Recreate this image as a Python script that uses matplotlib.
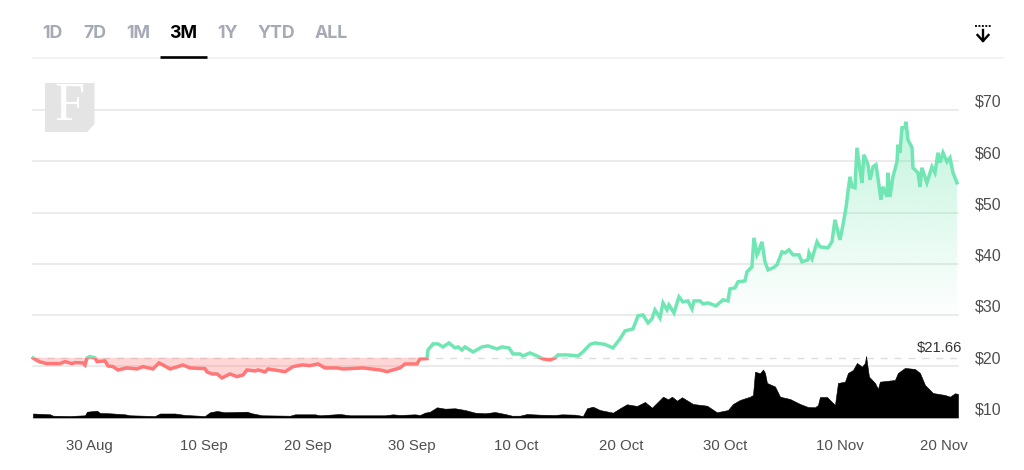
import numpy as np
import matplotlib
matplotlib.use("Agg")
import matplotlib.pyplot as plt
from matplotlib.patches import Polygon, Rectangle
from matplotlib.lines import Line2D
from matplotlib.transforms import ScaledTranslation
from matplotlib.colors import to_rgb

plt.rcParams['font.family'] = ['Liberation Sans', 'DejaVu Sans']

# days relative to 30 Aug
price_days = [-5.37,-5.08,-4.70,-4.03,-2.78,-2.30,-1.63,-1.34,-0.58,-0.38,-0.19,0.10,0.58,0.77,1.53,1.82,2.30,2.78,3.64,4.60,
 5.18,6.14,6.71,7.10,7.77,8.44,9.01,9.69,11.12,11.32,11.80,12.28,12.75,13.52,14.19,14.77,15.15,15.92,16.21,16.88,
 17.17,18.80,19.56,20.43,21.19,21.96,22.63,23.78,24.36,26.28,27.91,28.58,29.15,29.82,30.30,31.46,31.74,32.41,32.51,32.99,
 33.47,33.95,34.52,35.10,35.39,35.77,36.06,36.83,37.69,38.26,39.13,39.61,40.28,40.66,41.33,41.62,42.29,42.96,43.54,44.21,
 44.69,44.98,45.84,46.90,47.37,48.05,48.53,49.48,50.25,50.92,51.40,52.17,52.65,53.13,53.61,53.99,54.28,54.76,55.05,55.43,
 55.62,56.10,56.58,56.96,57.44,57.83,58.02,58.59,58.88,59.36,60.13,60.80,61.28,61.47,61.95,62.24,62.91,63.10,63.58,63.77,
 64.06,64.16,64.54,64.83,65.12,65.60,65.98,66.46,66.75,67.13,67.51,68.09,68.38,68.95,69.05,69.34,69.82,70.10,70.87,71.25,
 71.54,72.02,72.31,72.60,72.79,72.98,73.17,73.46,73.65,73.94,74.13,74.32,74.71,74.90,75.19,75.47,75.66,75.95,76.14,76.53,
 76.62,76.82,77.10,77.49,77.58,77.77,77.97,78.25,78.35,78.54,78.93,79.02,79.50,79.69,79.88,80.36,80.84,81.13,81.42,81.61,
 81.90,82.28,82.57,82.86,83.24]
prices = [21.62,21.23,20.84,20.51,20.51,20.90,20.51,20.71,20.65,20.25,21.62,21.88,21.62,20.90,21.04,20.06,19.92,19.28,19.67,19.47,
 19.92,19.47,20.65,20.25,19.47,19.87,20.25,19.67,19.53,18.89,18.50,18.50,17.72,18.50,17.97,18.30,19.28,19.08,19.28,18.89,
 19.47,18.94,19.92,20.25,20.12,20.45,19.67,19.67,19.47,19.67,19.28,18.94,19.28,19.67,20.45,20.45,21.43,21.49,23.18,24.36,
 24.36,23.77,24.55,23.58,23.77,23.18,23.77,22.79,23.77,23.97,23.38,23.77,23.58,22.40,22.40,22.01,22.60,22.01,21.43,21.23,
 21.62,22.21,22.21,22.01,22.79,24.26,24.55,24.26,23.58,25.33,26.89,27.29,29.83,30.02,28.46,29.24,31.00,29.43,32.36,31.00,
 31.97,30.41,33.54,32.56,32.75,31.19,32.75,32.75,32.17,32.36,31.78,32.95,32.75,35.10,35.29,36.47,36.66,38.42,39.39,45.06,
 41.74,42.13,44.28,40.37,38.81,39.20,39.78,42.32,42.13,42.72,41.74,41.74,40.37,40.76,42.13,40.96,44.28,43.30,43.11,44.28,
 48.57,44.67,47.60,50.92,54.04,56.97,55.02,54.82,62.63,58.34,55.80,61.27,59.32,56.38,58.92,59.32,56.78,52.48,55.02,53.07,
 57.75,53.07,56.97,59.90,63.22,61.66,66.54,66.54,67.71,64.20,62.63,58.73,57.75,55.02,58.73,55.80,58.92,57.75,61.66,59.71,
 61.66,59.90,60.68,57.75,55.80]

volume_days = [-5.37,-3.74,-3.45,-1.82,-0.38,-0.19,0.77,1.05,2.01,3.45,3.93,6.33,6.81,8.25,9.21,11.12,11.60,12.28,13.04,15.15,
 15.63,16.59,19.28,19.76,21.67,22.15,24.07,25.03,28.39,29.15,29.82,31.26,31.74,32.22,32.70,33.37,34.14,35.10,36.06,37.02,
 37.98,38.94,39.89,40.57,41.33,42.00,43.25,44.69,45.36,46.61,47.37,47.76,48.33,49.00,50.25,50.92,51.59,52.55,53.32,53.99,
 55.05,55.53,55.91,56.39,56.87,57.92,59.27,60.03,60.23,61.28,61.76,62.43,63.39,63.68,63.87,64.35,64.64,64.83,65.02,65.79,
 66.27,67.23,68.19,68.95,69.62,69.91,70.10,70.77,71.25,71.54,71.83,72.50,72.79,73.27,73.65,74.13,74.42,74.52,74.80,75.38,
 75.66,75.85,77.29,77.58,78.25,79.21,79.69,80.17,80.94,82.09,82.57,83.05,83.34]
volumes = [0.78,0.62,0.35,0.29,0.43,1.13,1.33,0.88,0.82,0.62,0.43,0.29,0.78,0.78,0.49,0.29,1.02,1.27,1.02,1.13,
 0.82,0.43,0.35,0.62,0.62,0.43,0.68,0.43,0.43,0.62,0.49,0.62,0.49,0.94,1.13,1.99,1.72,1.80,1.46,0.94,
 0.82,1.07,0.68,0.35,0.35,0.68,0.55,0.49,0.62,0.55,0.29,1.80,2.11,1.46,0.94,1.80,2.58,2.25,3.03,1.91,
 4.06,3.55,4.06,3.28,3.95,2.64,2.30,1.27,1.02,1.46,2.64,3.42,4.06,4.39,8.94,8.63,9.37,8.69,6.74,6.05,
 4.06,3.61,2.64,2.05,1.99,2.44,4.00,4.00,3.03,2.44,6.74,6.99,8.69,9.28,10.64,9.92,10.64,12.01,7.97,6.74,
 5.57,6.99,7.32,8.69,9.67,9.47,8.69,6.35,4.78,4.39,4.06,4.73,4.59]

base_price = 21.66
tick_days = [0, 11, 21, 31, 41, 51, 61, 72, 82]
tick_labels = ['30 Aug', '10 Sep', '20 Sep', '30 Sep', '10 Oct', '20 Oct', '30 Oct', '10 Nov', '20 Nov']
y_ticks = [10, 20, 30, 40, 50, 60, 70]
y_labels = ['$10', '$20', '$30', '$40', '$50', '$60', '$70']
tabs = ['1D', '7D', '1M', '3M', '1Y', 'YTD', 'ALL']
active_tab = '3M'

W, H = 1024, 470
GREEN, RED = '#6fe6b3', '#ff7777'
fig = plt.figure(figsize=(W/100, H/100), dpi=100, facecolor='white')
fx = lambda px: px / W
fy = lambda py: 1 - py / H

ax = fig.add_axes([fx(33), fy(417.5), (958-33)/W, (417.5-110)/H])
ax.set_xlim(-5.37, 83.34)
ax.set_ylim(10, 70)
ax.set_facecolor('none')
for s in ax.spines.values():
    s.set_visible(False)
ax.yaxis.tick_right()
ax.set_yticks(y_ticks, y_labels)
ax.set_xticks(tick_days, tick_labels)
ax.grid(axis='y', color='#e6e6e6', lw=1.1, zorder=0)
ax.grid(axis='x', visible=False)
ax.tick_params(axis='y', length=0, pad=12.2, labelsize=11.5, labelcolor='#4f4f4f')
ax.tick_params(axis='x', length=0, pad=15.7, labelsize=10.8, labelcolor='#4f4f4f')
for lab in ax.get_yticklabels():
    lab.set_transform(lab.get_transform() + ScaledTranslation(0, 9.2/100, fig.dpi_scale_trans))
for g in ax.get_ygridlines():
    g.set_clip_on(False)

x = np.array(price_days)
y = np.array(prices)

# base line
ax.axhline(base_price, color='#dddddd', lw=1, dashes=(5, 5), zorder=1)

# red area
ax.fill_between(x, y, base_price, where=y <= base_price, interpolate=True,
                color='#ff8080', alpha=0.32, lw=0, zorder=2)

# green gradient area
n = 256
rgba = np.zeros((n, 1, 4))
rgba[..., :3] = to_rgb('#5fe3a8')
rgba[:, 0, 3] = np.linspace(0.42, 0, n)**1.1
top = max(prices)
fade_end = 28
im = ax.imshow(rgba, extent=(x[0], x[-1], fade_end, top), origin='upper', aspect='auto', zorder=2,
               interpolation='bilinear')
clip_above = np.clip(y, base_price, None)
poly = Polygon(np.r_[np.c_[x, clip_above], [[x[-1], base_price], [x[0], base_price]]],
               closed=True, transform=ax.transData, fc='none', ec='none')
ax.add_patch(poly)
im.set_clip_path(poly)
ax.set_xlim(-5.37, 83.34)
ax.set_ylim(10, 70)

# price line, green above and red below the base price
lg, = ax.plot(x, y, color=GREEN, lw=2.5, zorder=4, solid_joinstyle='miter')
lr, = ax.plot(x, y, color=RED, lw=2.5, zorder=4, solid_joinstyle='miter')
lg.set_clip_path(Rectangle((-10, base_price), 100, 80, transform=ax.transData))
lr.set_clip_path(Rectangle((-10, 0), 100, base_price, transform=ax.transData))

# volume
ax2 = fig.add_axes(ax.get_position(), sharex=ax, facecolor='none')
ax2.set_ylim(0, 60)
ax2.axis('off')
ax2.fill_between(volume_days, volumes, 0, color='black', lw=0.4, zorder=3)

ax.text(fx(962), fy(348), f'${base_price:.2f}', transform=fig.transFigure, ha='right', va='center',
        fontsize=10.6, color='#333333')

# tab bar
tab_x = [52.5, 94.5, 138, 183.5, 227, 276, 331]
for name, px in zip(tabs, tab_x):
    fig.text(fx(px), fy(34), name, ha='center', va='center', fontsize=12.8, fontweight='bold',
             family='Inter', color='black' if name == active_tab else '#a7aab6')
fig.add_artist(Line2D([fx(33), fx(1003)], [fy(58), fy(58)], color='#f0f0f0', lw=1.1))
fig.add_artist(Line2D([fx(160), fx(207)], [fy(57), fy(57)], color='black', lw=1.9, solid_capstyle='butt'))

# logo
logo = [(45, 83), (94.5, 83), (94.5, 124), (87, 132), (45, 132)]
fig.add_artist(Polygon([(fx(a), fy(b)) for a, b in logo], closed=True, transform=fig.transFigure,
                       fc='#e3e3e3', ec='none', zorder=5, alpha=0.95))
t = fig.text(fx(69.5), fy(107), 'F', ha='center', va='center', fontsize=39, color='white',
             family='Liberation Serif', zorder=6)

# download icon
fig.add_artist(Line2D([fx(975), fx(991)], [fy(26), fy(26)], color='black', lw=1.3, dashes=(1.1, 0.8)))
fig.add_artist(Line2D([fx(983), fx(983)], [fy(29.5), fy(41)], color='black', lw=1.7))
fig.add_artist(Line2D([fx(977.5), fx(983), fx(988.5)], [fy(35), fy(41), fy(35)], color='black', lw=1.7))

fig.savefig('out.png', dpi=100)
